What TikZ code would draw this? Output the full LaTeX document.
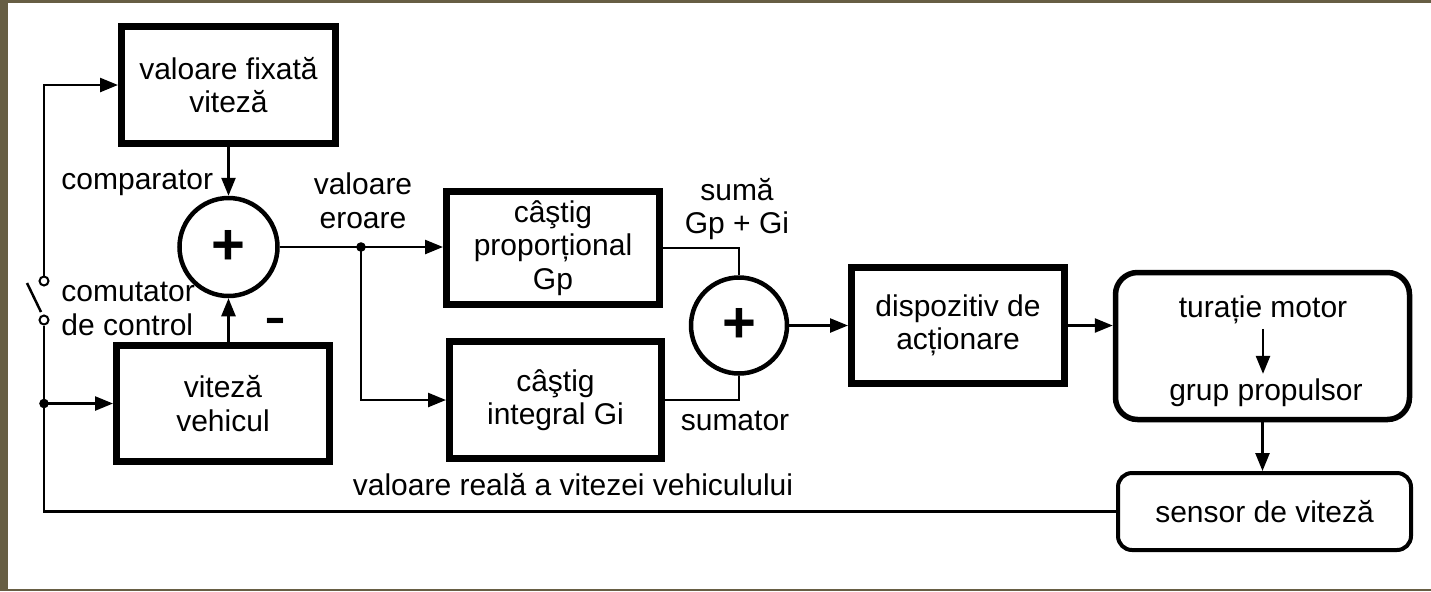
\documentclass[tikz,border=0pt]{standalone}
\usepackage{fontspec}
\setmainfont{Liberation Sans}
\usetikzlibrary{arrows.meta}

\definecolor{framebrown}{RGB}{103,94,68}

\begin{document}
\begin{tikzpicture}[x=0.5pt,y=-0.5pt,
  every node/.style={font=\fontsize{15}{16.75}\selectfont, inner sep=0pt},
  blk/.style={draw, line width=3.5pt, rectangle, align=center},
  sumnode/.style={draw, circle, line width=2.25pt, minimum size=#1,
                  font=\fontsize{29}{29}\selectfont\bfseries},
  link/.style={line width=1.25pt},
  arr/.style={link, -{Triangle[length=9pt,width=7pt]}},
  contact/.style={draw, circle, line width=1pt, minimum size=4.5pt, fill=white},
  dot/.style={fill, circle, minimum size=4.8pt},
]

% page and frame strips
\fill[white] (0,0) rectangle (1431,591);
\fill[framebrown] (0,0) rectangle (8,591);
\fill[framebrown] (0,0) rectangle (1431,3);
\fill[framebrown] (0,589) rectangle (1431,591);
\useasboundingbox (0,0) rectangle (1431,591);

% blocks
\node[blk, minimum width=107pt, minimum height=58.5pt] (fix) at (228.5,85) {valoare fixată\\viteză};
\node[blk, minimum width=106.5pt, minimum height=58pt] (veh) at (223,403.5) {viteză\\vehicul};
\node[blk, minimum width=106.5pt, minimum height=56.5pt] (gp) at (553,248) {câştig\\proporțional\\Gp};
\node[blk, minimum width=106pt, minimum height=58.5pt] (gi) at (555.5,400) {câştig\\integral Gi};
\node[blk, minimum width=106.5pt, minimum height=58pt] (act) at (958,325.5) {dispozitiv de\\acționare};
\node[draw, rounded corners=11pt, line width=2.75pt, minimum width=147pt, minimum height=73.5pt] (mot) at (1262.5,346) {};
\node[draw, rounded corners=7pt, line width=2pt, minimum width=146.5pt, minimum height=38.5pt] (sen) at (1264.5,511.5) {sensor de viteză};

% texts inside the engine block
\node[anchor=base] (tur) at (1263,317) {turație motor};
\node[anchor=base] (grp) at (1266,400) {grup propulsor};

% summing junctions
\node[sumnode=49pt] (c1) at (228.5,247) {+};
\node[sumnode=48pt] (c2) at (739,325.5) {+};

% control switch
\node[contact] (sw1) at (44,281) {};
\node[contact] (sw2) at (44,320) {};
\draw[link] (27,283) -- (41,312);

% branch points
\coordinate (errx) at (361,0);
\coordinate (err) at (errx |- c1.east);
\coordinate (tap) at (sw2 |- veh.west);

% connectors
\draw[arr] (sw1.north) |- (fix.west);
\draw[link] (sen.west) -| (sw2.south);
\draw[arr] (tap) -- (veh.west);
\node[dot] at (tap) {};
\draw[arr] (c1.north |- fix.south) -- (c1.north);
\draw[arr] (c1.south |- veh.north) -- (c1.south);
\draw[arr] (c1.east) -- (c1.east -| gp.west);
\draw[arr] (err) |- (gi.west);
\node[dot] at (err) {};
\draw[link] (gp.east) -| (c2.north);
\draw[link] (gi.east) -| (c2.south);
\draw[arr] (c2.east) -- (c2.east -| act.west);
\draw[arr] (act.east) -- (act.east -| mot.west);
\draw[arr, shorten <=2.5pt, shorten >=2pt] (tur.south) -- (tur.south |- grp.north);
\draw[arr] (mot.south) -- (mot.south |- sen.north);

% labels
\node[anchor=base west] (cmp) at (61,189) {comparator};
\node[anchor=west, align=left] (swl) at (61,309) {comutator\\de control};
\node[align=center] (errl) at (363,201) {valoare\\eroare};
\node[align=center] (suml) at (737,209) {sumă\\Gp + Gi};
\node[anchor=base] (sumt) at (735,430) {sumator};
\node[anchor=base] (real) at (573,495) {valoare reală a vitezei vehiculului};
\node[font=\fontsize{33}{33}\selectfont] (minus) at (275,328) {-};

\end{tikzpicture}
\end{document}
